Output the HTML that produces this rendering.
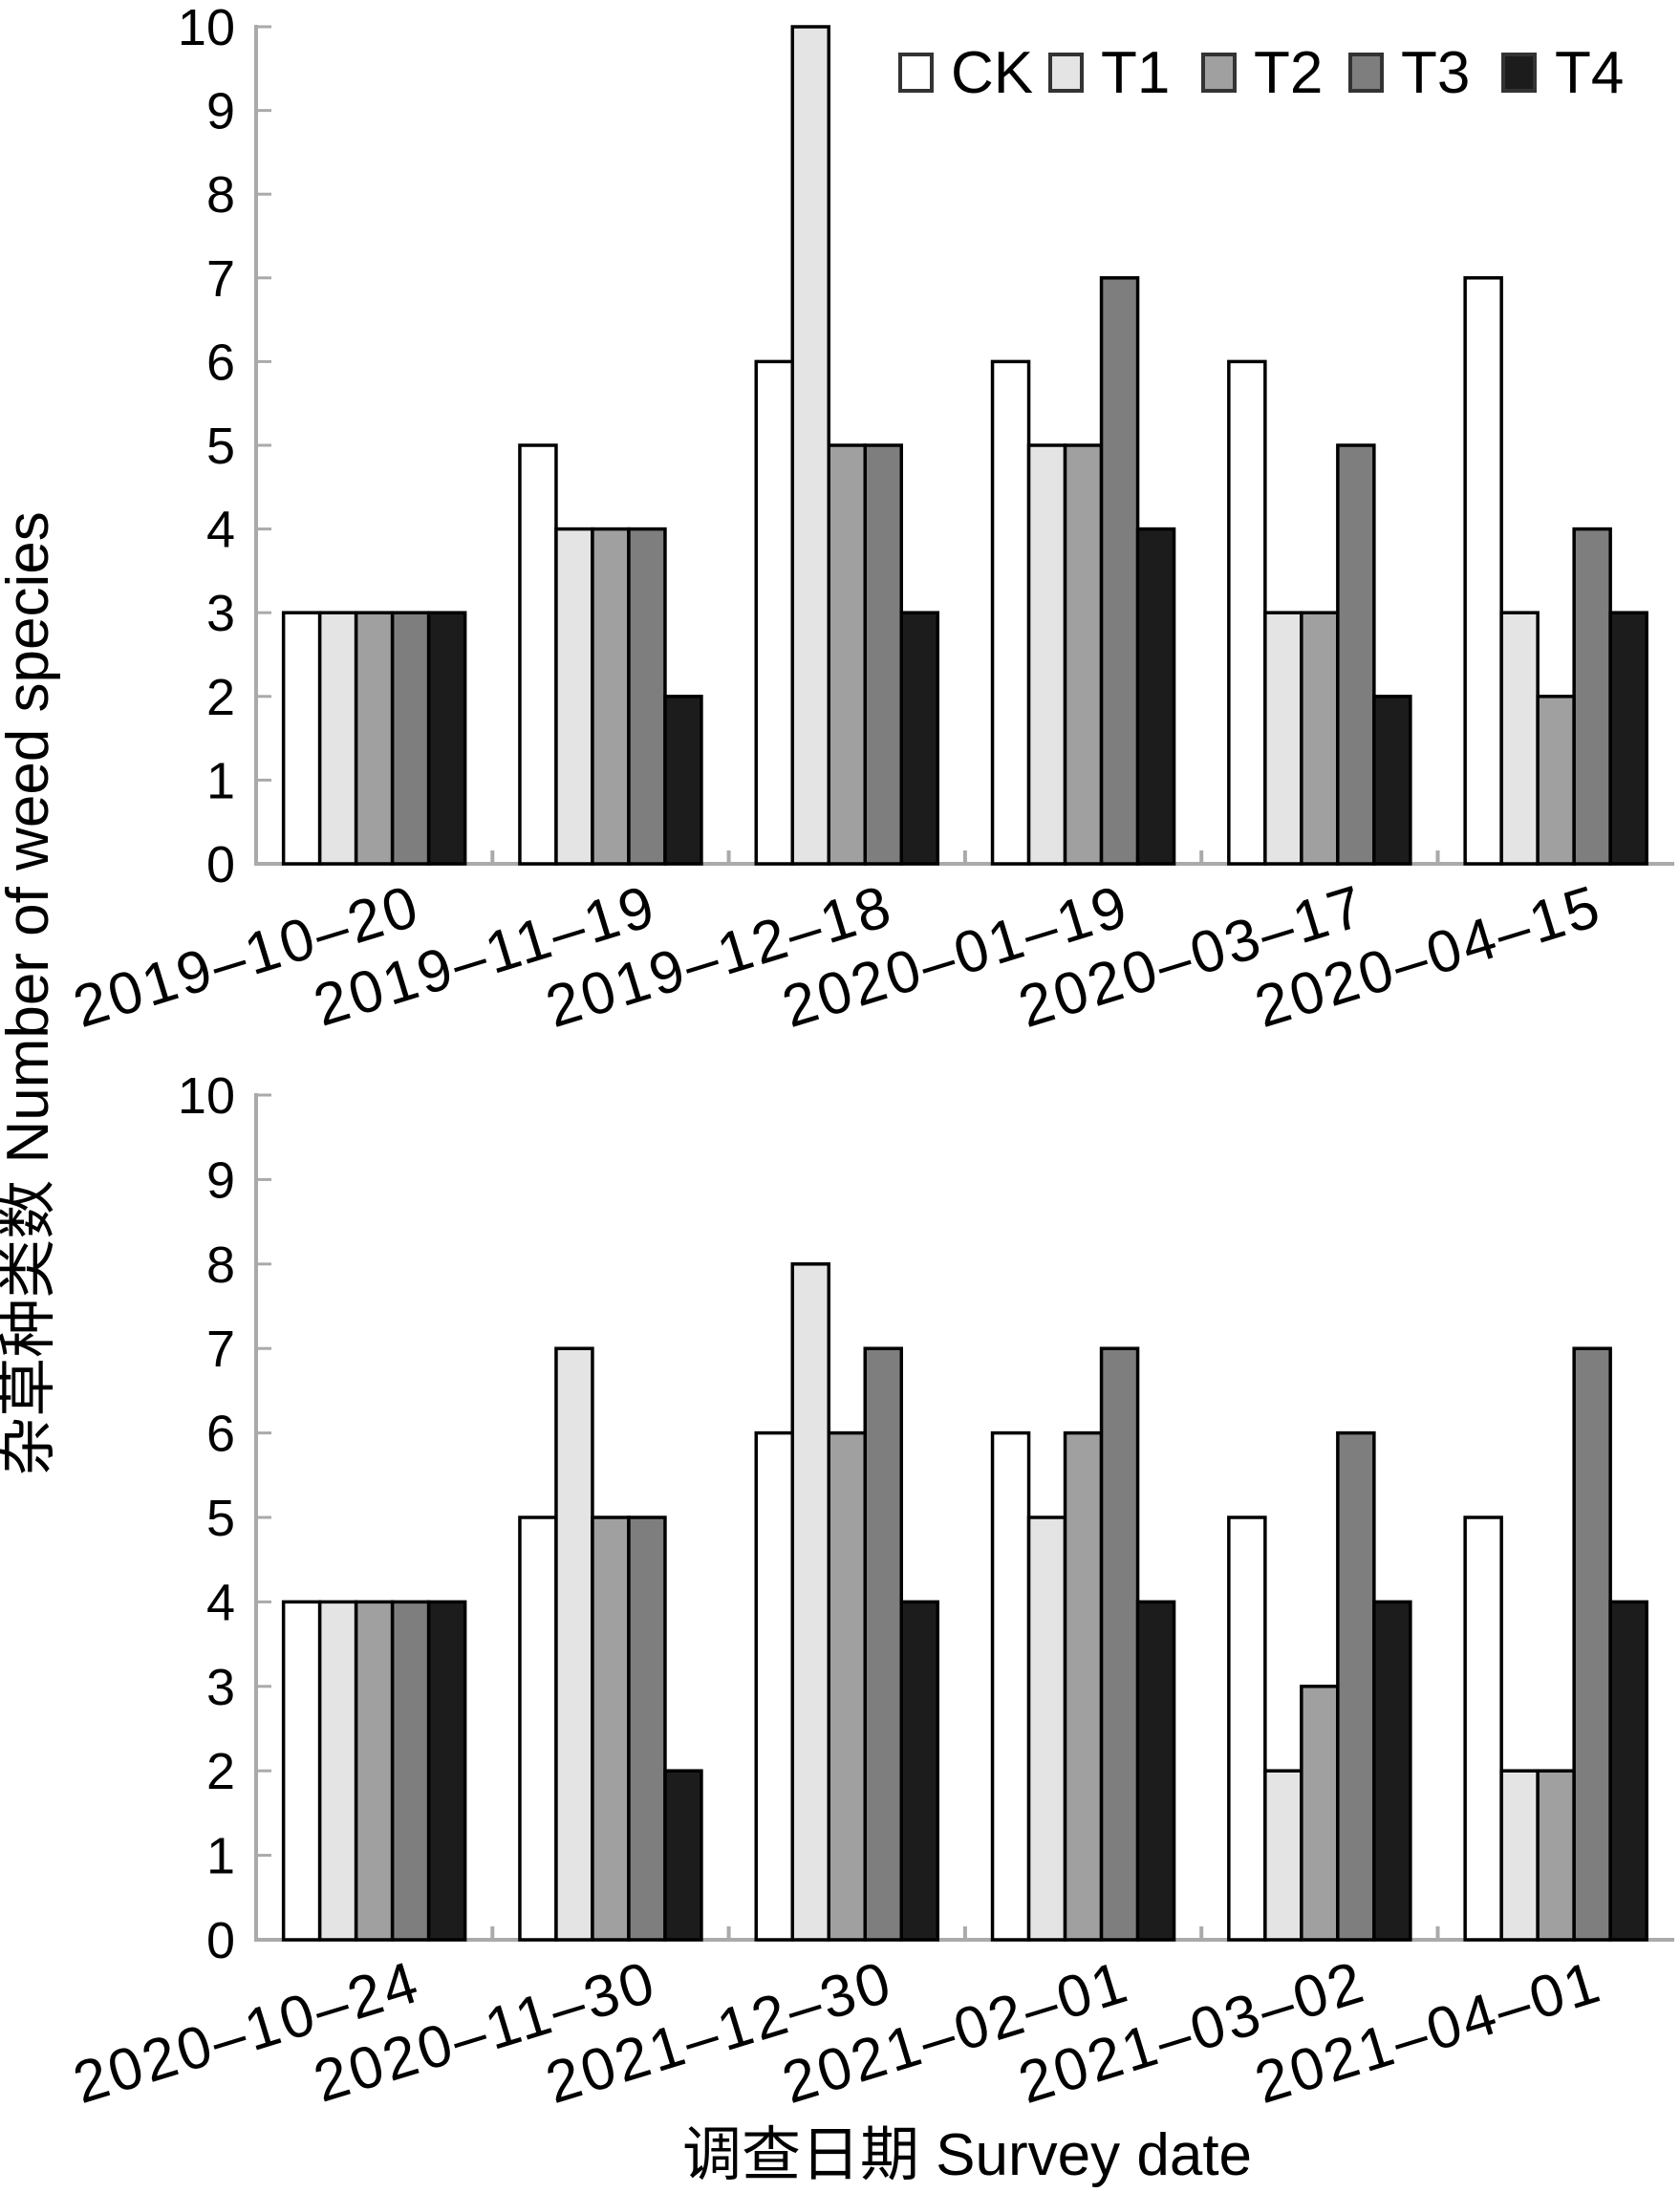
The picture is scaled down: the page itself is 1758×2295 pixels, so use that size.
<!DOCTYPE html>
<html><head><meta charset="utf-8"><style>
html,body{margin:0;padding:0;background:#fff;}
svg text{font-family:"Liberation Sans Narrow","Liberation Sans","Noto Sans CJK SC",sans-serif;fill:#000;}
.ct{font-family:"Liberation Sans","Noto Sans CJK SC",sans-serif !important;}
</style></head><body>
<svg width="1758" height="2290" viewBox="0 0 1758 2290" xmlns="http://www.w3.org/2000/svg">
<g id="chart"></g>
<text class="ct" x="1012" y="2276" font-size="62" text-anchor="middle" fill="#222">调查日期 Survey date</text>
<text class="ct" transform="translate(50,1040) rotate(-90)" font-size="62" text-anchor="middle" fill="#222">杂草种类数 Number of weed species</text>
<g font-size="62">
<rect x="942" y="57" width="33" height="38" fill="#fff" stroke="#333" stroke-width="4"/><text x="995" y="97">CK</text>
<rect x="1099" y="57" width="33" height="38" fill="#e4e4e4" stroke="#333" stroke-width="4"/><text x="1152" y="97">T1</text>
<rect x="1259" y="57" width="33" height="38" fill="#a0a0a0" stroke="#333" stroke-width="4"/><text x="1312" y="97">T2</text>
<rect x="1413" y="57" width="33" height="38" fill="#7e7e7e" stroke="#333" stroke-width="4"/><text x="1466" y="97">T3</text>
<rect x="1573" y="57" width="33" height="38" fill="#1c1c1c" stroke="#333" stroke-width="4"/><text x="1627" y="97">T4</text>
</g>
</svg>
<script>
const g=document.getElementById('chart');const NS='http://www.w3.org/2000/svg';
function el(t,a,txt){const e=document.createElementNS(NS,t);for(const k in a)e.setAttribute(k,a[k]);if(txt!==undefined)e.textContent=txt;g.appendChild(e);return e;}
const cols=['#fff','#e4e4e4','#a0a0a0','#7e7e7e','#1c1c1c'];
function chart(y0,unit,data,labels){
 const x0=268,cw=247.3,bw=38;
 el('line',{x1:x0,y1:y0-10*unit-2,x2:x0,y2:y0,stroke:'#aaa','stroke-width':4});
 el('line',{x1:x0-2,y1:y0,x2:1752,y2:y0,stroke:'#aaa','stroke-width':4});
 for(let i=0;i<=10;i++){const y=y0-i*unit;el('line',{x1:x0,y1:y,x2:x0+16,y2:y,stroke:'#aaa','stroke-width':3});
  el('text',{class:'ct',x:246,y:y+19,'font-size':54,'text-anchor':'end'},String(i));}
 for(let c=1;c<6;c++){const x=x0+c*cw;el('line',{x1:x,y1:y0,x2:x,y2:y0-14,stroke:'#aaa','stroke-width':4});}
 data.forEach((d,c)=>{const gx=x0+c*cw+(cw-5*bw)/2;
  d.forEach((v,k)=>{el('rect',{x:gx+k*bw,y:y0-v*unit,width:bw,height:v*unit,fill:cols[k],stroke:'#000','stroke-width':3.5});});
  const cx=x0+c*cw+cw/2;
  el('text',{x:0,y:0,'font-size':62,'letter-spacing':3,'text-anchor':'end',transform:`translate(${cx+52},${y0+62}) rotate(-17)`},labels[c]);
 });
}
chart(904,87.6,[[3,3,3,3,3],[5,4,4,4,2],[6,10,5,5,3],[6,5,5,7,4],[6,3,3,5,2],[7,3,2,4,3]],
 ['2019–10–20','2019–11–19','2019–12–18','2020–01–19','2020–03–17','2020–04–15']);
chart(2030,88.4,[[4,4,4,4,4],[5,7,5,5,2],[6,8,6,7,4],[6,5,6,7,4],[5,2,3,6,4],[5,2,2,7,4]],
 ['2020–10–24','2020–11–30','2021–12–30','2021–02–01','2021–03–02','2021–04–01']);
</script>
</body></html>
